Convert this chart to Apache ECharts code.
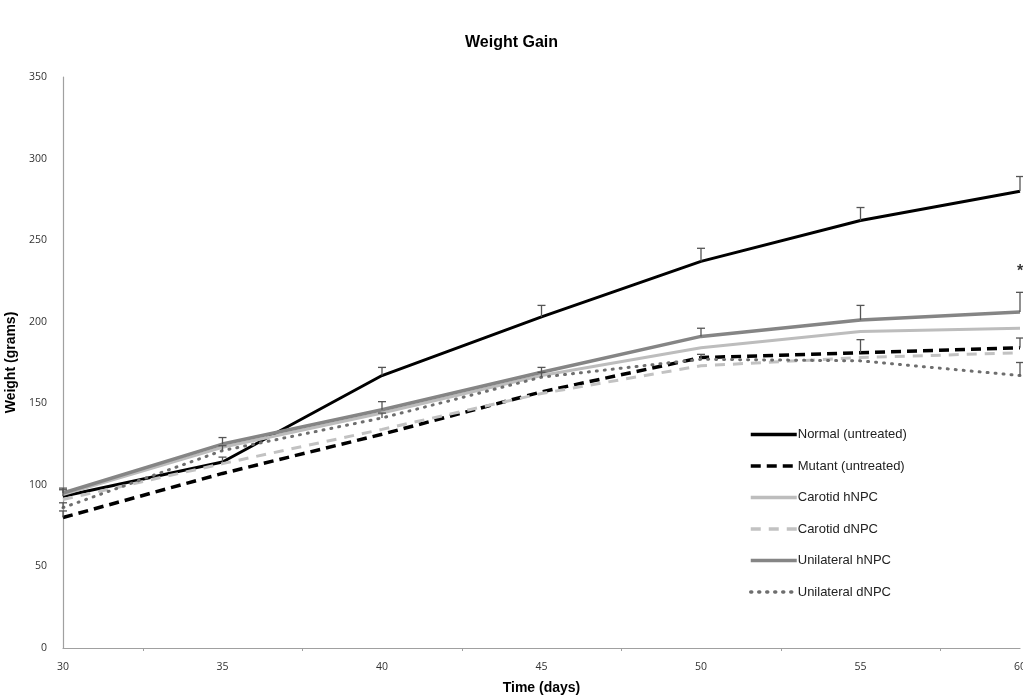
<!DOCTYPE html>
<html>
<head>
<meta charset="utf-8">
<script src="https://cdn.jsdelivr.net/npm/echarts@6/dist/echarts.min.js"></script>
<style>
html,body{margin:0;padding:0;background:#fff;}
#chart{width:1023px;height:696px;}
</style>
</head>
<body>
<div id="chart"></div>
<script>
// ---- data ----
const days = [30, 35, 40, 45, 50, 55, 60];
const yTicks = [0, 50, 100, 150, 200, 250, 300, 350];
const seriesNames = ['Normal (untreated)', 'Mutant (untreated)', 'Carotid hNPC', 'Carotid dNPC', 'Unilateral hNPC', 'Unilateral dNPC'];
const normal       = [93, 114, 167, 203, 237, 262, 280];
const mutant       = [80, 107, 131, 157, 178, 181, 184];
const carotidH     = [94, 123, 144, 167, 184, 194, 196];
const carotidD     = [91, 113, 134, 156, 173, 178, 181];
const unilateralH  = [95, 125, 146, 169, 191, 201, 206];
const unilateralD  = [86, 121, 141, 166, 177, 176, 167];
// upper error (grams)
const normalErr      = [4, 3, 5, 7, 8, 8, 9];
const mutantErr      = [4, 0, 0, 0, 0, 8, 6];
const unilateralHErr = [3, 4, 5, 3, 5, 9, 12];
const unilateralDErr = [3, 3, 3, 3, 3, 0, 8];
const asterisk = [[60, 231]];

const values = [normal, mutant, carotidH, carotidD, unilateralH, unilateralD];
const styles = [
  {color: '#000000', width: 3, type: 'solid'},
  {color: '#000000', width: 3.5, type: [10, 6]},
  {color: '#bdbdbd', width: 3, type: 'solid'},
  {color: '#c2c2c2', width: 3, type: [10, 8]},
  {color: '#858585', width: 3.5, type: 'solid'},
  {color: '#6e6e6e', width: 3, type: [1, 7], cap: 'round'}
];

const chart = echarts.init(document.getElementById('chart'));

const lineSeries = seriesNames.map((name, i) => ({
  name: name,
  type: 'line',
  data: days.map((d, j) => [d, values[i][j]]),
  symbol: 'none',
  showSymbol: false,
  lineStyle: {color: styles[i].color, width: styles[i].width, type: styles[i].type, cap: styles[i].cap || 'butt'},
  itemStyle: {color: styles[i].color},
  z: 3
}));

function errSeries(vals, errs) {
  return {
    type: 'custom',
    silent: true,
    z: 4,
    data: days.map((d, j) => [d, vals[j], errs[j]]).filter(r => r[2] > 0),
    renderItem: function (params, api) {
      const p0 = api.coord([api.value(0), api.value(1)]);
      const p1 = api.coord([api.value(0), api.value(1) + api.value(2)]);
      const w = 4;
      return {
        type: 'group',
        children: [
          {type: 'line', shape: {x1: p0[0], y1: p0[1], x2: p1[0], y2: p1[1]}, style: {stroke: '#555', lineWidth: 1.3}},
          {type: 'line', shape: {x1: p1[0] - w, y1: p1[1], x2: p1[0] + w, y2: p1[1]}, style: {stroke: '#555', lineWidth: 1.3}}
        ]
      };
    }
  };
}

const option = {
  animation: false,
  backgroundColor: '#ffffff',
  title: {
    text: 'Weight Gain',
    left: 'center',
    top: 30,
    textStyle: {fontFamily: 'Liberation Sans, Arial, sans-serif', fontSize: 16, fontWeight: 'bold', color: '#000'}
  },
  legend: {
    data: seriesNames,
    orient: 'vertical',
    left: 744,
    top: 423,
    itemWidth: 46,
    itemHeight: 14,
    itemGap: 18.5,
    itemStyle: {opacity: 0},
    lineStyle: {width: 3.5},
    textStyle: {fontFamily: 'Liberation Sans, Arial, sans-serif', fontSize: 13, color: '#222', padding: [0, 0, 0, -4]}
  },
  grid: {left: 63, right: 3, top: 77, bottom: 48, containLabel: false, outerBoundsMode: 'none'},
  xAxis: {
    type: 'value',
    min: 30,
    max: 60,
    interval: 5,
    name: 'Time (days)',
    nameLocation: 'middle',
    nameGap: 33,
    nameTextStyle: {fontFamily: 'Liberation Sans, Arial, sans-serif', fontSize: 14, fontWeight: 'bold', color: '#000'},
    axisLine: {show: true, lineStyle: {color: '#a0a0a0', width: 1.2}},
    axisTick: {show: false},
    minorTick: {show: true, splitNumber: 2, length: 3, lineStyle: {color: '#a0a0a0'}},
    splitLine: {show: false},
    minorSplitLine: {show: false},
    axisLabel: {fontFamily: 'Open Sans, DejaVu Sans, sans-serif', fontSize: 10.5, color: '#333', margin: 14}
  },
  yAxis: {
    type: 'value',
    min: 0,
    max: 350,
    interval: 50,
    name: 'Weight (grams)',
    nameLocation: 'middle',
    nameGap: 43,
    nameRotate: 90,
    nameTextStyle: {fontFamily: 'Liberation Sans, Arial, sans-serif', fontSize: 14, fontWeight: 'bold', color: '#000'},
    axisLine: {show: true, lineStyle: {color: '#a0a0a0', width: 1.2}},
    axisTick: {show: false},
    splitLine: {show: false},
    axisLabel: {
      fontFamily: 'Open Sans, DejaVu Sans, sans-serif', fontSize: 10.5, color: '#333', margin: 16,
      formatter: v => (yTicks.indexOf(v) >= 0 ? String(v) : '')
    }
  },
  series: [
    ...lineSeries,
    errSeries(normal, normalErr),
    errSeries(mutant, mutantErr),
    errSeries(unilateralH, unilateralHErr),
    errSeries(unilateralD, unilateralDErr),
    {
      type: 'scatter',
      data: asterisk,
      symbolSize: 0,
      silent: true,
      label: {show: true, formatter: '*', position: 'inside', fontSize: 16, fontWeight: 'bold', color: '#000', fontFamily: 'Liberation Sans, Arial, sans-serif'}
    }
  ]
};
chart.setOption(option);
</script>
</body>
</html>
